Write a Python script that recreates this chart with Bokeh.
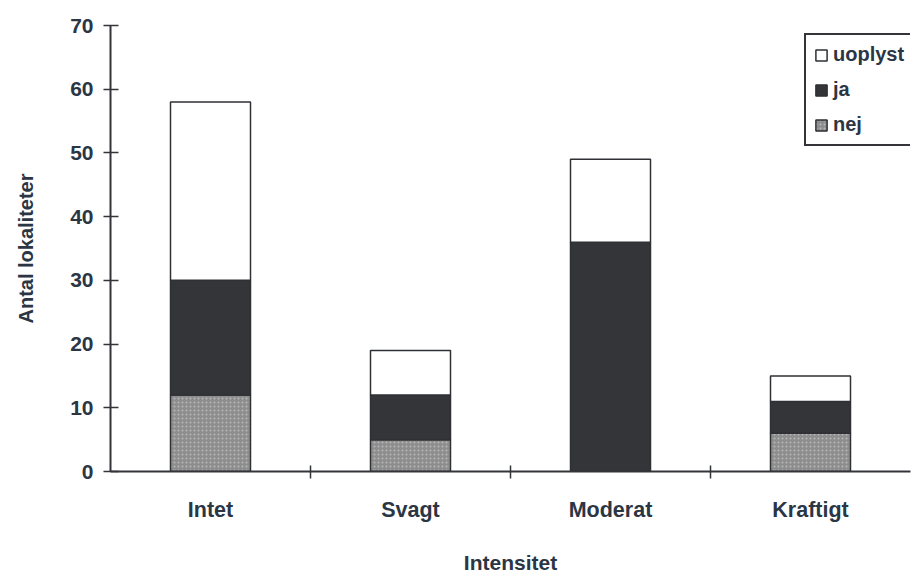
from bokeh.plotting import figure
from bokeh.models import ColumnDataSource, FixedTicker, Range1d, Legend, LegendItem
from bokeh.embed import file_html
from bokeh.resources import INLINE

categories = ["Intet", "Svagt", "Moderat", "Kraftigt"]
nej = [12, 5, 0, 6]
ja = [18, 7, 36, 5]
uoplyst = [28, 7, 13, 4]
y_ticks = [0, 10, 20, 30, 40, 50, 60, 70]

xs = [i + 0.5 for i in range(len(categories))]
src = ColumnDataSource(dict(x=xs, nej=nej, ja=ja, uoplyst=uoplyst))

TXT = "#2b3645"
DARK = "#333538"
FONT = "Liberation Sans"

p = figure(width=912, height=576, x_range=Range1d(0, len(categories)), y_range=Range1d(0, 70),
           output_backend="svg", toolbar_location=None,
           min_border_left=110, min_border_right=2, min_border_top=25, min_border_bottom=104)
p.grid.visible = False
p.outline_line_color = None

rs = p.vbar_stack(["nej", "ja", "uoplyst"], x="x", width=0.4, source=src,
                  fill_color=["#8d8d8d", "#343539", "#ffffff"],
                  line_color="#2e3034", line_width=1.5)
rs[0].glyph.hatch_pattern = "dot"
rs[0].glyph.hatch_color = "#b8b8b8"
rs[0].glyph.hatch_scale = 4
rs[0].glyph.hatch_weight = 1

# x axis
xa = p.xaxis[0]
xa.ticker = FixedTicker(ticks=xs, minor_ticks=[1, 2, 3])
xa.major_label_overrides = {x: c for x, c in zip(xs, categories)}
xa.major_tick_in = 0
xa.major_tick_out = 0
xa.minor_tick_in = 6
xa.minor_tick_out = 7
xa.minor_tick_line_color = DARK
xa.minor_tick_line_width = 1.5
xa.axis_line_color = DARK
xa.axis_line_width = 2
xa.major_label_standoff = 19
xa.major_label_text_font = FONT
xa.major_label_text_font_style = "bold"
xa.major_label_text_font_size = "21.5px"
xa.major_label_text_color = TXT
xa.axis_label = "Intensitet"
xa.axis_label_standoff = 26
xa.axis_label_text_font = FONT
xa.axis_label_text_font_style = "bold"
xa.axis_label_text_font_size = "21px"
xa.axis_label_text_color = TXT

# y axis
ya = p.yaxis[0]
ya.ticker = FixedTicker(ticks=y_ticks)
ya.major_tick_in = 8
ya.major_tick_out = 7
ya.minor_tick_in = 0
ya.minor_tick_out = 0
ya.major_tick_line_color = DARK
ya.major_tick_line_width = 1.5
ya.axis_line_color = DARK
ya.axis_line_width = 2
ya.major_label_standoff = 10
ya.major_label_text_font = FONT
ya.major_label_text_font_style = "bold"
ya.major_label_text_font_size = "21px"
ya.major_label_text_color = TXT
ya.axis_label = "Antal lokaliteter"
ya.axis_label_standoff = 30
ya.axis_label_text_font = FONT
ya.axis_label_text_font_style = "bold"
ya.axis_label_text_font_size = "20px"
ya.axis_label_text_color = TXT

legend = Legend(items=[LegendItem(label="uoplyst", renderers=[rs[2]]),
                       LegendItem(label="ja", renderers=[rs[1]]),
                       LegendItem(label="nej", renderers=[rs[0]])],
                location=(694, 325), orientation="vertical",
                glyph_width=14, glyph_height=14, label_height=22, spacing=12,
                padding=8, margin=0, label_standoff=5,
                border_line_color=DARK, border_line_width=2, border_line_alpha=1,
                label_text_font=FONT, label_text_font_style="bold",
                label_text_font_size="20px", label_text_color=TXT,
                background_fill_color="white", background_fill_alpha=1)
p.add_layout(legend)

open("out.html", "w").write(file_html(p, INLINE))
